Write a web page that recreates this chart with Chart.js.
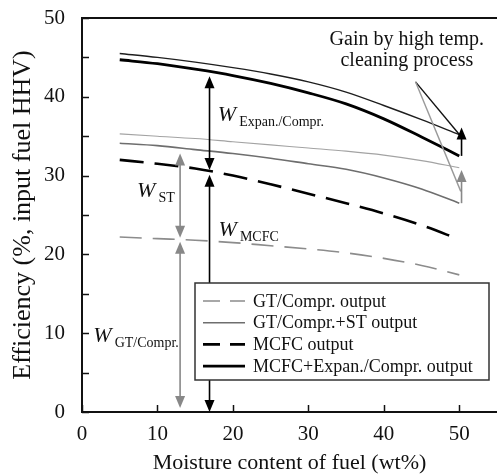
<!DOCTYPE html>
<html>
<head>
<meta charset="utf-8">
<script src="https://cdn.jsdelivr.net/npm/chart.js@4.4.1/dist/chart.umd.min.js"></script>
<style>
html, body { margin: 0; padding: 0; background: #fff; }
</style>
</head>
<body>
<canvas id="graphics" width="497" height="474"></canvas>
<script>
const SERIF = '"Liberation Serif", "Times New Roman", serif';

// moisture content of fuel (wt%)
const moisture = [5, 10, 15, 20, 25, 30, 35, 40, 45, 50];

// efficiency (% input fuel HHV)
const gtCompr      = [22.2, 22.0, 21.8, 21.5, 21.1, 20.7, 20.2, 19.5, 18.6, 17.4];
const gtComprSt    = [34.1, 33.8, 33.3, 32.8, 32.2, 31.5, 30.8, 29.7, 28.3, 26.5];
const gtComprStHot = [35.3, 35.0, 34.7, 34.3, 33.9, 33.5, 33.1, 32.6, 31.9, 31.0];
const mcfc         = [32.0, 31.5, 30.9, 30.0, 28.9, 27.7, 26.5, 25.2, 23.7, 21.9];
const mcfcExpan    = [44.7, 44.2, 43.5, 42.7, 41.7, 40.5, 39.1, 37.2, 34.9, 32.5];
const mcfcExpanHot = [45.5, 45.0, 44.4, 43.7, 42.9, 41.9, 40.6, 38.9, 37.1, 35.2];

const yTicks = [0, 10, 20, 30, 40, 50];

const pts = (ys) => moisture.map((x, i) => ({ x: x, y: ys[i] }));

const series = (label, ys, color, width, dash, inLegend) => ({
    label: label,
    data: pts(ys),
    borderColor: color,
    borderWidth: width,
    borderDash: dash,
    cubicInterpolationMode: 'monotone',
    pointRadius: 0,
    fill: false,
    inLegend: inLegend
});

const datasets = [
    series('GT/Compr. output', gtCompr, '#8c8c8c', 1.6, [22, 11], true),
    series('GT/Compr.+ST output', gtComprSt, '#6e6e6e', 1.6, [], true),
    series('MCFC output', mcfc, '#000', 2.6, [24, 11], true),
    series('MCFC+Expan./Compr. output', mcfcExpan, '#000', 2.8, [], true),
    series('GT/Compr.+ST output (high temp. cleaning)', gtComprStHot, '#a3a3a3', 1.1, [], false),
    series('MCFC+Expan./Compr. output (high temp. cleaning)', mcfcExpanHot, '#1e1e1e', 1.4, [], false)
];

// arrows in data coordinates
const arrows = [
    { x: 16.9, y1: 30.7, y2: 42.6, head1: true, head2: true, color: '#000' },
    { x: 16.9, y1: 0, y2: 30.1, head1: true, head2: true, color: '#000' },
    { x: 13, y1: 22.1, y2: 32.8, head1: true, head2: true, color: '#888' },
    { x: 13, y1: 0.5, y2: 21.6, head1: true, head2: true, color: '#888' },
    { x: 50.3, y1: 32.5, y2: 36.1, head1: false, head2: true, color: '#000' },
    { x: 50.3, y1: 26.5, y2: 30.7, head1: false, head2: true, color: '#888' }
];

const leaders = [
    { x1: 44.2, y1: 41.9, x2: 50.2, y2: 35.0, color: '#111' },
    { x1: 44.2, y1: 41.9, x2: 50.2, y2: 28.0, color: '#999' }
];

const wLabels = [
    { x: 18.0, y: 36.9, sub: 'Expan./Compr.' },
    { x: 7.3, y: 27.3, sub: 'ST' },
    { x: 18.1, y: 22.3, sub: 'MCFC' },
    { x: 1.5, y: 8.9, sub: 'GT/Compr.' }
];

const gainText = ['Gain by high temp.', 'cleaning process'];

function arrowHead(c, x, y, dir) {
    c.beginPath();
    c.moveTo(x, y);
    c.lineTo(x - 5, y - dir * 12);
    c.lineTo(x + 5, y - dir * 12);
    c.closePath();
    c.fill();
}

const overlay = {
    id: 'overlay',
    afterDatasetsDraw(chart) {
        const c = chart.ctx;
        const xs = chart.scales.x, ys = chart.scales.y;
        const a = chart.chartArea;
        c.save();

        // frame: top line and inward ticks
        c.strokeStyle = '#111';
        c.lineWidth = 2;
        c.beginPath();
        c.moveTo(a.left - 1, a.top);
        c.lineTo(a.right, a.top);
        c.stroke();
        c.lineWidth = 1.5;
        ys.ticks.forEach(t => {
            const py = Math.round(ys.getPixelForValue(t.value)) + 0.5;
            c.beginPath();
            c.moveTo(a.left, py);
            c.lineTo(a.left + 7, py);
            c.stroke();
        });
        xs.ticks.forEach(t => {
            const px = Math.round(xs.getPixelForValue(t.value)) + 0.5;
            c.beginPath();
            c.moveTo(px, a.bottom);
            c.lineTo(px, a.bottom - 7);
            c.stroke();
        });

        // leader lines
        leaders.forEach(l => {
            c.strokeStyle = l.color;
            c.lineWidth = 1.4;
            c.beginPath();
            c.moveTo(xs.getPixelForValue(l.x1), ys.getPixelForValue(l.y1));
            c.lineTo(xs.getPixelForValue(l.x2), ys.getPixelForValue(l.y2));
            c.stroke();
        });

        // arrows
        arrows.forEach(ar => {
            const px = xs.getPixelForValue(ar.x);
            const p1 = ys.getPixelForValue(ar.y1);
            const p2 = ys.getPixelForValue(ar.y2);
            c.strokeStyle = ar.color;
            c.fillStyle = ar.color;
            c.lineWidth = 1.6;
            c.beginPath();
            c.moveTo(px, ar.head1 ? p1 - 8 : p1);
            c.lineTo(px, ar.head2 ? p2 + 8 : p2);
            c.stroke();
            if (ar.head1) arrowHead(c, px, p1, 1);
            if (ar.head2) arrowHead(c, px, p2, -1);
        });

        // W labels
        c.fillStyle = '#111';
        c.textBaseline = 'alphabetic';
        c.textAlign = 'left';
        wLabels.forEach(w => {
            const px = xs.getPixelForValue(w.x);
            const py = ys.getPixelForValue(w.y);
            c.font = 'italic 22px ' + SERIF;
            c.fillText('W', px, py);
            const ww = c.measureText('W').width;
            c.font = '14px ' + SERIF;
            c.fillText(w.sub, px + ww + 3, py + 5);
        });

        // gain text
        c.font = '20px ' + SERIF;
        c.textAlign = 'center';
        c.fillText(gainText[0], xs.getPixelForValue(43.05), ys.getPixelForValue(46.6));
        c.fillText(gainText[1], xs.getPixelForValue(43.05), ys.getPixelForValue(43.9));

        // legend box
        const lx = a.left + 113, ly = a.top + 265, lw = 294, lh = 97;
        c.fillStyle = '#fff';
        c.fillRect(lx, ly, lw, lh);
        c.strokeStyle = '#333';
        c.lineWidth = 1.5;
        c.strokeRect(lx, ly, lw, lh);
        c.font = '18px ' + SERIF;
        c.textAlign = 'left';
        c.textBaseline = 'middle';
        chart.data.datasets.filter(d => d.inLegend).forEach((d, i) => {
            const ry = ly + 18 + i * 21.7;
            c.strokeStyle = d.borderColor;
            c.lineWidth = d.borderWidth;
            c.setLineDash(d.borderDash.length ? [17, 10] : []);
            c.beginPath();
            c.moveTo(lx + 8, ry);
            c.lineTo(lx + 50, ry);
            c.stroke();
            c.setLineDash([]);
            c.fillStyle = '#111';
            c.fillText(d.label, lx + 58, ry + 1);
        });
        c.restore();
    }
};

const ctx = document.getElementById('graphics');

const myChart = new Chart(ctx, {
    type: 'line',
    data: { datasets: datasets },
    options: {
        responsive: false,
        animation: false,
        layout: { padding: { top: 18, right: 0, left: 0, bottom: 0 } },
        plugins: {
            legend: { display: false },
            tooltip: { enabled: false }
        },
        scales: {
            x: {
                type: 'linear',
                min: 0,
                max: 55,
                grid: { display: false, drawTicks: false },
                border: { color: '#111', width: 2 },
                ticks: {
                    stepSize: 10,
                    includeBounds: false,
                    maxRotation: 0,
                    padding: 10,
                    color: '#111',
                    font: { family: SERIF, size: 21 }
                },
                title: {
                    display: true,
                    text: 'Moisture content of fuel (wt%)',
                    color: '#111',
                    font: { family: SERIF, size: 22, lineHeight: 1 },
                    padding: 0
                },
                afterFit: (s) => { s.height = 62; s.paddingLeft = 0; s.paddingRight = 0; }
            },
            y: {
                type: 'linear',
                min: 0,
                max: 50,
                grid: { display: false, drawTicks: false },
                border: { color: '#111', width: 2 },
                ticks: {
                    stepSize: 5,
                    padding: 17,
                    color: '#111',
                    font: { family: SERIF, size: 21 },
                    callback: (v) => yTicks.includes(v) ? v : ''
                },
                title: {
                    display: true,
                    text: 'Efficiency (%, input fuel HHV)',
                    color: '#111',
                    font: { family: SERIF, size: 26, lineHeight: 1 },
                    padding: { top: 10, bottom: 0 }
                },
                afterFit: (s) => { s.width = 82; s.paddingTop = 0; s.paddingBottom = 0; }
            }
        }
    },
    plugins: [overlay]
});
</script>
</body>
</html>
